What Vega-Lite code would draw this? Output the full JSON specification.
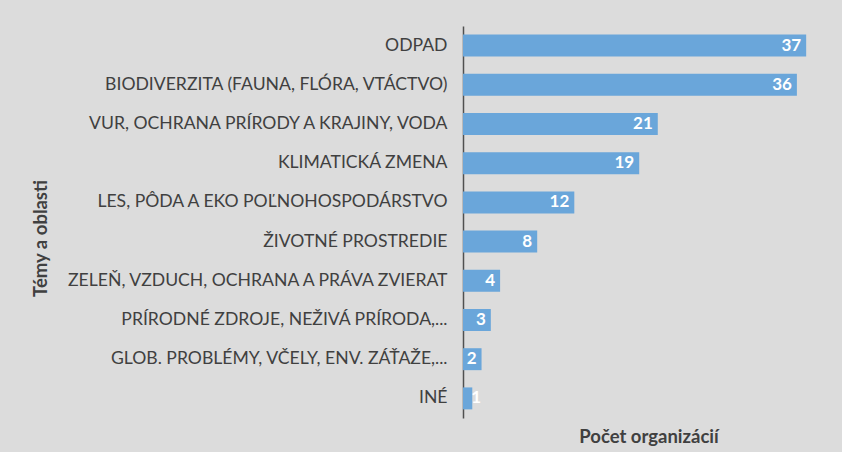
{
  "$schema": "https://vega.github.io/schema/vega-lite/v6.json",
  "width": 371,
  "height": 392,
  "autosize": {"type": "none"},
  "padding": {"left": 463, "top": 26, "right": 8, "bottom": 34},
  "background": "#dcdcdc",
  "config": {"view": {"stroke": null}, "font": "Lato"},
  "data": {"values": [
    {"tema": "ODPAD", "pocet": 37},
    {"tema": "BIODIVERZITA (FAUNA, FLÓRA, VTÁCTVO)", "pocet": 36},
    {"tema": "VUR, OCHRANA PRÍRODY A KRAJINY, VODA", "pocet": 21},
    {"tema": "KLIMATICKÁ ZMENA", "pocet": 19},
    {"tema": "LES, PÔDA A EKO POĽNOHOSPODÁRSTVO", "pocet": 12},
    {"tema": "ŽIVOTNÉ PROSTREDIE", "pocet": 8},
    {"tema": "ZELEŇ, VZDUCH, OCHRANA A PRÁVA ZVIERAT", "pocet": 4},
    {"tema": "PRÍRODNÉ ZDROJE, NEŽIVÁ PRÍRODA,...", "pocet": 3},
    {"tema": "GLOB. PROBLÉMY, VČELY, ENV. ZÁŤAŽE,...", "pocet": 2},
    {"tema": "INÉ", "pocet": 1}
  ]},
  "encoding": {
    "y": {
      "field": "tema", "type": "nominal", "sort": null,
      "scale": {"paddingInner": 0.44, "paddingOuter": 0.22},
      "axis": {
        "title": "Témy a oblasti",
        "titleFont": "Lato", "titleFontSize": 18.5, "titleFontWeight": "bold", "titleColor": "#404040",
        "titleX": -423, "titleY": 212, "titleAngle": -90, "titleAlign": "center", "titleBaseline": "middle",
        "labelFont": "Lato", "labelFontSize": 17.6, "labelColor": "#404040", "labelLimit": 420,
        "labelPadding": 16, "ticks": false,
        "domain": true, "domainColor": "#505050", "domainWidth": 1.5
      }
    },
    "x": {
      "field": "pocet", "type": "quantitative",
      "scale": {"domain": [0, 40], "nice": false},
      "axis": {
        "title": "Počet organizácií",
        "titleFont": "Lato", "titleFontSize": 18.5, "titleFontWeight": "bold", "titleColor": "#404040",
        "titleY": 18, "titleBaseline": "middle",
        "labels": false, "ticks": false, "domain": false, "grid": false
      }
    }
  },
  "layer": [
    {"mark": {"type": "bar", "color": "#6AA6DA"}},
    {
      "transform": [{"filter": "datum.pocet >= 2"}],
      "mark": {"type": "text", "align": "right", "baseline": "middle", "dx": -5, "color": "white", "fontWeight": "bold", "fontSize": 17, "font": "Lato"},
      "encoding": {"text": {"field": "pocet", "type": "quantitative"}}
    },
    {
      "transform": [{"filter": "datum.pocet < 2"}],
      "mark": {"type": "text", "align": "left", "baseline": "middle", "dx": -1, "color": "white", "fontWeight": "bold", "fontSize": 17, "font": "Lato"},
      "encoding": {"text": {"field": "pocet", "type": "quantitative"}}
    }
  ]
}
